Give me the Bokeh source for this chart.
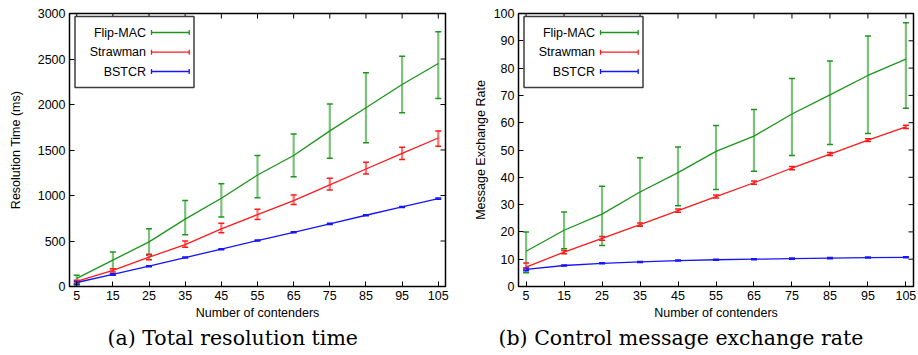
from bokeh.plotting import figure
from bokeh.models import (ColumnDataSource, Whisker, TeeHead, Range1d,
                          FixedTicker, Label, BoxAnnotation, Title)
from bokeh.layouts import row
from bokeh.embed import file_html
from bokeh.resources import INLINE

# ---------------- data ----------------
contenders = [5, 15, 25, 35, 45, 55, 65, 75, 85, 95, 105]
series_names = ["Flip-MAC", "Strawman", "BSTCR"]

# (a) Total resolution time (ms)
time_flip = [90, 290, 490, 740, 970, 1225, 1440, 1710, 1965, 2220, 2450]
time_flip_lo = [15, 195, 340, 570, 765, 975, 1205, 1410, 1580, 1910, 2065]
time_flip_hi = [125, 380, 635, 945, 1130, 1440, 1675, 2005, 2350, 2530, 2800]

time_straw = [55, 176, 322, 461, 633, 790, 944, 1116, 1291, 1463, 1632]
time_straw_lo = [35, 160, 295, 430, 590, 735, 900, 1060, 1235, 1395, 1540]
time_straw_hi = [70, 195, 355, 500, 695, 850, 1005, 1190, 1365, 1530, 1710]

time_bstcr = [44, 132, 223, 318, 410, 505, 596, 688, 783, 874, 966]
time_bstcr_lo = [25, 125, 217, 312, 404, 499, 590, 682, 777, 868, 960]
time_bstcr_hi = [55, 140, 229, 324, 416, 511, 602, 694, 789, 880, 972]

# (b) Control message exchange rate
rate_flip = [12.9, 20.6, 26.5, 34.6, 41.7, 49.5, 55.1, 63.2, 70.2, 77.3, 83.3]
rate_flip_lo = [5.0, 13.8, 15.0, 22.2, 29.6, 35.5, 42.2, 48.0, 52.0, 56.0, 65.3]
rate_flip_hi = [20.0, 27.3, 36.7, 47.2, 51.1, 59.0, 64.8, 76.2, 82.6, 91.8, 96.6]

rate_straw = [7.1, 12.6, 17.6, 22.7, 27.8, 32.9, 38.0, 43.4, 48.5, 53.6, 58.5]
rate_straw_lo = [6.2, 12.0, 16.9, 22.1, 27.2, 32.4, 37.5, 42.8, 48.0, 53.1, 57.9]
rate_straw_hi = [8.6, 13.2, 18.3, 23.3, 28.4, 33.5, 38.6, 44.0, 49.1, 54.1, 59.1]

rate_bstcr = [6.3, 7.7, 8.5, 9.0, 9.5, 9.8, 10.0, 10.2, 10.4, 10.6, 10.7]
rate_bstcr_lo = [5.8, 7.5, 8.3, 8.8, 9.3, 9.6, 9.8, 10.0, 10.2, 10.4, 10.5]
rate_bstcr_hi = [6.8, 7.9, 8.7, 9.2, 9.7, 10.0, 10.2, 10.4, 10.6, 10.8, 10.9]

x_ticks = [5, 15, 25, 35, 45, 55, 65, 75, 85, 95, 105]
y_ticks_time = [0, 500, 1000, 1500, 2000, 2500, 3000]
y_ticks_rate = [0, 10, 20, 30, 40, 50, 60, 70, 80, 90, 100]

# ---------------- style ----------------
line_colors = ["#1c951c", "#ff1a1a", "#1515ff"]
bar_colors = ["#7cc27c", "#ff7373", "#7373ff"]
SANS = "Liberation Sans"
FH = 273  # frame height (px)


def style_axis(ax, ticks):
    ax.ticker = FixedTicker(ticks=ticks)
    ax.major_tick_in = 5
    ax.major_tick_out = 0
    ax.minor_tick_in = 0
    ax.minor_tick_out = 0
    ax.major_tick_line_color = "black"
    ax.major_tick_line_width = 1
    ax.axis_line_color = None
    ax.major_label_text_font = SANS
    ax.major_label_text_color = "black"
    ax.major_label_text_font_size = "12.5px"
    ax.major_label_standoff = 4
    ax.axis_label_text_font = SANS
    ax.axis_label_text_font_style = "normal"
    ax.axis_label_text_font_size = "12.5px"
    ax.axis_label_text_color = "black"


def make_panel(width, border_left, border_right, y_end, y_ticks, ylabel, ylabel_standoff,
               data, caption, caption_offset):
    fw = width - border_left - border_right
    p = figure(width=width, height=355, output_backend="svg", toolbar_location=None,
               x_range=Range1d(3, 107), y_range=Range1d(0, y_end),
               min_border_left=border_left, min_border_right=border_right,
               min_border_top=13, min_border_bottom=69)
    p.grid.visible = False
    p.outline_line_color = "black"
    p.outline_line_width = 1.5
    p.background_fill_color = "white"
    p.border_fill_color = "white"

    style_axis(p.xaxis[0], x_ticks)
    p.xaxis[0].axis_label = "Number of contenders"
    p.xaxis[0].axis_label_standoff = 3
    style_axis(p.yaxis[0], y_ticks)
    p.yaxis[0].axis_label = ylabel
    p.yaxis[0].axis_label_standoff = ylabel_standoff

    # mirrored inward ticks on the top and right borders
    tsrc = ColumnDataSource(dict(x=x_ticks))
    p.add_layout(Whisker(source=tsrc, base="x", lower=FH - 5, upper=FH,
                         lower_units="screen", upper_units="screen", dimension="height",
                         line_color="black", line_width=1, upper_head=None, lower_head=None))
    rsrc = ColumnDataSource(dict(y=y_ticks))
    p.add_layout(Whisker(source=rsrc, base="y", lower=fw - 5, upper=fw,
                         lower_units="screen", upper_units="screen", dimension="width",
                         line_color="black", line_width=1, upper_head=None, lower_head=None))

    for (ys, lo, hi), lc, bc in zip(data, line_colors, bar_colors):
        src = ColumnDataSource(dict(x=contenders, y=ys, lo=lo, hi=hi))
        w = Whisker(source=src, base="x", lower="lo", upper="hi", dimension="height",
                    line_color=bc, line_width=2.2,
                    upper_head=TeeHead(size=6, line_color=lc, line_width=1.5),
                    lower_head=TeeHead(size=6, line_color=lc, line_width=1.5))
        p.add_layout(w)
        p.line("x", "y", source=src, line_color=lc, line_width=1.3)

    # legend (text left, sample right, as in the original)
    p.add_layout(BoxAnnotation(left=5.5, right=124.5, top=FH - 3, bottom=FH - 74,
                               left_units="screen", right_units="screen",
                               top_units="screen", bottom_units="screen",
                               fill_color="white", fill_alpha=1.0,
                               line_color="#3c3c3c", line_width=1.5, line_alpha=1.0))
    rows_y = [FH - 19, FH - 38.7, FH - 58]
    for name, lc, ry in zip(series_names, line_colors, rows_y):
        p.add_layout(Label(x=76.5, y=ry, x_units="screen", y_units="screen", text=name,
                           text_align="right", text_baseline="middle",
                           text_font=SANS, text_font_size="12.5px", text_color="black"))
        lsrc = ColumnDataSource(dict(y=[ry], x0=[82.0], x1=[119.7]))
        p.add_layout(Whisker(source=lsrc, base="y", lower="x0", upper="x1", dimension="width",
                             base_units="screen", lower_units="screen", upper_units="screen",
                             line_color=lc, line_width=1.3, level="annotation",
                             upper_head=TeeHead(size=5, line_color=lc, line_width=1.3),
                             lower_head=TeeHead(size=5, line_color=lc, line_width=1.3)))

    p.add_layout(Title(text=caption, align="left", offset=caption_offset,
                       text_font="DejaVu Serif", text_font_size="20.5px",
                       text_font_style="normal", text_color="black", standoff=2), "below")
    return p


pa = make_panel(459, 69, 14, 3000, y_ticks_time, "Resolution Time (ms)", 12,
                [(time_flip, time_flip_lo, time_flip_hi),
                 (time_straw, time_straw_lo, time_straw_hi),
                 (time_bstcr, time_bstcr_lo, time_bstcr_hi)],
                "(a) Total resolution time", 38)
pb = make_panel(459, 59, 5, 100, y_ticks_rate, "Message Exchange Rate", 3,
                [(rate_flip, rate_flip_lo, rate_flip_hi),
                 (rate_straw, rate_straw_lo, rate_straw_hi),
                 (rate_bstcr, rate_bstcr_lo, rate_bstcr_hi)],
                "(b) Control message exchange rate", -20)

layout = row(pa, pb)
open("out.html", "w").write(file_html(layout, INLINE))
